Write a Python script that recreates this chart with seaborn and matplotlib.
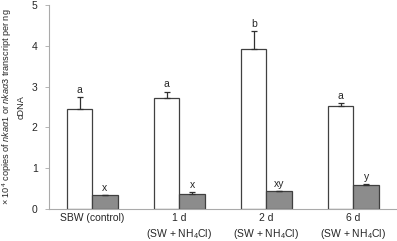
import pandas as pd
import seaborn as sns
import matplotlib.pyplot as plt

groups = ['SBW (control)', '1 d\n(SW + NH$_4$Cl)', '2 d\n(SW + NH$_4$Cl)', '6 d\n(SW + NH$_4$Cl)']
genes = ['nkaa1', 'nkaa3']
nkaa1_mean = [2.45, 2.73, 3.93, 2.52]
nkaa1_err = [0.30, 0.15, 0.44, 0.08]
nkaa3_mean = [0.33, 0.37, 0.43, 0.58]
nkaa3_err = [0.02, 0.05, 0.02, 0.04]
nkaa1_letters = ['a', 'a', 'b', 'a']
nkaa3_letters = ['x', 'x', 'xy', 'y']

sns.set_style('white')
plt.rcParams['font.family'] = ['Liberation Sans', 'DejaVu Sans']
plt.rcParams['mathtext.fontset'] = 'custom'
plt.rcParams['mathtext.rm'] = 'Liberation Sans'
plt.rcParams['mathtext.it'] = 'Liberation Sans:italic'

df = pd.DataFrame({
    'group': groups * 2,
    'gene': [genes[0]] * 4 + [genes[1]] * 4,
    'value': nkaa1_mean + nkaa3_mean,
    'err': nkaa1_err + nkaa3_err,
    'letter': nkaa1_letters + nkaa3_letters,
})

fig = plt.figure(figsize=(3.97, 2.41), dpi=100)
ax = fig.add_axes([0.123, 0.133, 0.877, 0.846])

sns.barplot(data=df, x='group', y='value', hue='gene', order=groups, hue_order=genes,
            palette=['white', '#8c8c8c'], width=0.58, errorbar=None,
            edgecolor='#404040', linewidth=0.9, legend=False, ax=ax)

# bars come out in hue order: all nkaa1 then all nkaa3
bars = ax.patches[:8]
for bar, (_, row) in zip(bars, df.iterrows()):
    xc = bar.get_x() + bar.get_width() / 2
    ax.errorbar(xc, row['value'], yerr=[[0], [row['err']]], fmt='none',
                ecolor='#303030', elinewidth=0.9, capsize=2.2, capthick=0.9)
    ax.text(xc, row['value'] + row['err'] + 0.05, row['letter'],
            ha='center', va='bottom', fontsize=7.5)

ax.set_ylim(0, 5)
ax.set_xlim(-0.5, 3.5)
ax.set_yticks([0, 1, 2, 3, 4, 5])
ax.set_xlabel('')
ax.set_ylabel('× 10$^4$ copies of $\\mathit{nka\u03b11}$ or $\\mathit{nka\u03b13}$ transcript per ng\ncDNA',
              fontsize=6.6, linespacing=1.35)
ax.yaxis.set_label_coords(-0.068, 0.5)
ax.tick_params(axis='y', labelsize=7.5, length=3, width=0.6, color='#aaaaaa', direction='out', left=True, pad=5)
ax.tick_params(axis='x', labelsize=7.5, length=0, pad=3)
for lab in ax.get_xticklabels():
    lab.set_linespacing(1.35)

sns.despine(ax=ax)
for side in ['left', 'bottom']:
    ax.spines[side].set_color('#aaaaaa')
    ax.spines[side].set_linewidth(0.8)

fig.savefig('out.png', dpi=100)
